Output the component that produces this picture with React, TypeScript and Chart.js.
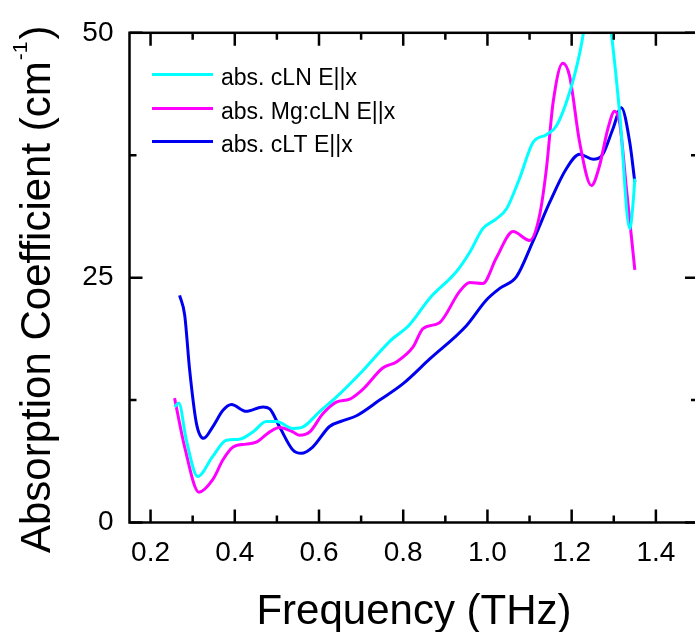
import React, { useEffect, useRef } from "react";
import { Chart, registerables } from "chart.js";

Chart.register(...registerables);

// ---- data ----
const cLNx = [0.257, 0.267, 0.285, 0.312, 0.347, 0.38, 0.411, 0.443, 0.475, 0.499, 0.538, 0.562, 0.601, 0.641, 0.704, 0.768, 0.815, 0.863, 0.926, 0.958, 0.989, 1.021, 1.045, 1.076, 1.108, 1.14, 1.164, 1.195, 1.219, 1.245, 1.262, 1.28, 1.294, 1.314, 1.338, 1.346, 1.35];
const cLNy = [11.8, 12.2, 8.4, 4.7, 6.7, 8.4, 8.5, 9.25, 10.3, 10.3, 9.6, 9.76, 11.3, 12.8, 15.5, 18.5, 20.2, 22.9, 25.6, 27.6, 30.0, 31.0, 32.0, 35.1, 38.8, 39.6, 40.5, 43.9, 47.9, 54, 56, 54, 50, 41.8, 30.0, 32.7, 35.1];

const mgx = [0.257, 0.281, 0.315, 0.348, 0.372, 0.396, 0.427, 0.451, 0.483, 0.506, 0.538, 0.554, 0.578, 0.609, 0.641, 0.673, 0.704, 0.752, 0.784, 0.823, 0.847, 0.886, 0.934, 0.958, 0.989, 1.021, 1.061, 1.1, 1.124, 1.14, 1.156, 1.179, 1.195, 1.219, 1.247, 1.266, 1.286, 1.302, 1.314, 1.33, 1.35];
const mgy = [12.7, 7.7, 3.1, 4.4, 6.4, 7.7, 8.0, 8.2, 9.25, 9.7, 9.25, 8.9, 9.25, 11.1, 12.3, 12.6, 13.6, 15.8, 16.4, 17.9, 19.8, 20.4, 23.6, 24.5, 24.4, 27.0, 29.7, 28.8, 31.4, 36.1, 42.9, 46.9, 45.6, 38.8, 34.4, 36.4, 40.2, 42.0, 40.8, 34.1, 25.8];

const cLTx = [0.269, 0.281, 0.293, 0.309, 0.326, 0.348, 0.372, 0.392, 0.427, 0.467, 0.483, 0.506, 0.538, 0.558, 0.585, 0.625, 0.657, 0.689, 0.744, 0.799, 0.863, 0.95, 0.997, 1.029, 1.069, 1.108, 1.148, 1.187, 1.219, 1.251, 1.274, 1.298, 1.318, 1.338, 1.35];
const cLTy = [23.2, 21.2, 15.5, 10.1, 8.6, 9.8, 11.45, 12.05, 11.35, 11.8, 11.6, 9.8, 7.4, 7.06, 7.7, 9.8, 10.4, 10.9, 12.5, 14.15, 16.7, 20.1, 22.7, 23.9, 25.1, 28.7, 32.7, 36.1, 37.6, 37.1, 37.6, 40.2, 42.35, 38.8, 34.75];

const seriesLabels = ["abs. cLN E||x", "abs. Mg:cLN E||x", "abs. cLT E||x"];
const seriesColors = ["#00FFFF", "#FF00FF", "#0000F0"];

const xMajorTicks = [0.2, 0.4, 0.6, 0.8, 1.0, 1.2, 1.4];
const xTickLabels = ["0.2", "0.4", "0.6", "0.8", "1.0", "1.2", "1.4"];
const xMinorTicks = [0.3, 0.5, 0.7, 0.9, 1.1, 1.3, 1.5];
const yMajorTicks = [0, 25, 50];
const yTickLabels = ["0", "25", "50"];
const yMinorTicks = [12.5, 37.5];

const xTitle = "Frequency (THz)";
const yTitleMain = "Absorption Coefficient (cm";
const yTitleSup = "-1";
const yTitleEnd = ")";

const FONT = "'Liberation Sans', Arial, Helvetica, sans-serif";

export default function App() {
  const ref = useRef<HTMLCanvasElement>(null);

  useEffect(() => {
    document.body.style.margin = "0";
    document.body.style.overflow = "hidden";
    const canvas = ref.current;
    if (!canvas) return;

    const toPts = (xs: number[], ys: number[]) => xs.map((x, i) => ({ x, y: ys[i] }));

    const framePlugin = {
      id: "frameAndDecor",
      afterDatasetsDraw(chart: any) {
        const { ctx, chartArea: a, scales } = chart;
        const xs = scales.x;
        const ys = scales.y;
        ctx.save();
        // frame
        ctx.strokeStyle = "#000";
        ctx.lineWidth = 2.5;
        ctx.strokeRect(a.left, a.top, a.right - a.left, a.bottom - a.top);
        // ticks (inward)
        ctx.beginPath();
        const xt = (v: number, len: number) => {
          const p = xs.getPixelForValue(v);
          ctx.moveTo(p, a.bottom);
          ctx.lineTo(p, a.bottom - len);
          ctx.moveTo(p, a.top);
          ctx.lineTo(p, a.top + len);
        };
        const yt = (v: number, len: number) => {
          const p = ys.getPixelForValue(v);
          ctx.moveTo(a.left, p);
          ctx.lineTo(a.left + len, p);
          ctx.moveTo(a.right, p);
          ctx.lineTo(a.right - len, p);
        };
        xMajorTicks.forEach((v) => xt(v, 13));
        xMinorTicks.forEach((v) => xt(v, 7));
        yMajorTicks.forEach((v) => yt(v, 13));
        yMinorTicks.forEach((v) => yt(v, 7));
        ctx.stroke();

        // legend
        const legY = [74.5, 108.5, 141.5];
        ctx.font = `23px ${FONT}`;
        ctx.textAlign = "left";
        ctx.textBaseline = "alphabetic";
        seriesLabels.forEach((lab, i) => {
          ctx.strokeStyle = seriesColors[i];
          ctx.lineWidth = 3;
          ctx.beginPath();
          ctx.moveTo(152, legY[i]);
          ctx.lineTo(213, legY[i]);
          ctx.stroke();
          ctx.fillStyle = "#000";
          ctx.fillText(lab, 221, legY[i] + 10);
        });

        // x title
        ctx.fillStyle = "#000";
        ctx.font = `42px ${FONT}`;
        ctx.textAlign = "center";
        ctx.fillText(xTitle, 414, 624);

        // y title (rotated, with superscript)
        ctx.save();
        ctx.translate(50, 553);
        ctx.rotate(-Math.PI / 2);
        ctx.textAlign = "left";
        ctx.font = `42px ${FONT}`;
        ctx.fillText(yTitleMain, 0, 0);
        const w1 = ctx.measureText(yTitleMain).width;
        ctx.font = `21px ${FONT}`;
        ctx.fillText(yTitleSup, w1 + 1, -23);
        const w2 = ctx.measureText(yTitleSup).width;
        ctx.font = `42px ${FONT}`;
        ctx.fillText(yTitleEnd, w1 + w2 + 3, 0);
        ctx.restore();

        ctx.restore();
      },
    };

    const chart = new Chart(canvas, {
      type: "line",
      data: {
        datasets: [
          { label: seriesLabels[0], data: toPts(cLNx, cLNy), borderColor: seriesColors[0] },
          { label: seriesLabels[1], data: toPts(mgx, mgy), borderColor: seriesColors[1] },
          { label: seriesLabels[2], data: toPts(cLTx, cLTy), borderColor: seriesColors[2] },
        ].map((d) => ({
          ...d,
          borderWidth: 3,
          pointRadius: 0,
          fill: false,
          cubicInterpolationMode: "monotone" as const,
        })),
      },
      options: {
        responsive: false,
        animation: false,
        events: [],
        layout: { padding: { top: 29.5, right: 7, bottom: 0, left: 0 } },
        plugins: {
          legend: { display: false },
          tooltip: { enabled: false },
          title: { display: false },
        },
        scales: {
          x: {
            type: "linear",
            min: 0.15,
            max: 1.5,
            grid: { display: false, drawTicks: false },
            border: { display: false },
            afterBuildTicks: (s: any) => {
              s.ticks = xMajorTicks.map((v) => ({ value: v }));
            },
            afterFit: (s: any) => {
              s.height = 109.5;
            },
            ticks: {
              autoSkip: false,
              maxRotation: 0,
              padding: 14,
              color: "#000",
              font: { family: FONT, size: 28 },
              callback: (_v: any, i: number) => xTickLabels[i],
            },
          },
          y: {
            type: "linear",
            min: 0,
            max: 50,
            grid: { display: false, drawTicks: false },
            border: { display: false },
            afterBuildTicks: (s: any) => {
              s.ticks = yMajorTicks.map((v) => ({ value: v }));
            },
            afterFit: (s: any) => {
              s.width = 129.5;
            },
            ticks: {
              padding: 16,
              color: "#000",
              font: { family: FONT, size: 28 },
              callback: (_v: any, i: number) => yTickLabels[i],
            },
          },
        },
      },
      plugins: [framePlugin],
    });

    return () => chart.destroy();
  }, []);

  return (
    <div style={{ width: 695, height: 632, overflow: "hidden" }}>
      <canvas ref={ref} width={705} height={632} style={{ display: "block" }} />
    </div>
  );
}
